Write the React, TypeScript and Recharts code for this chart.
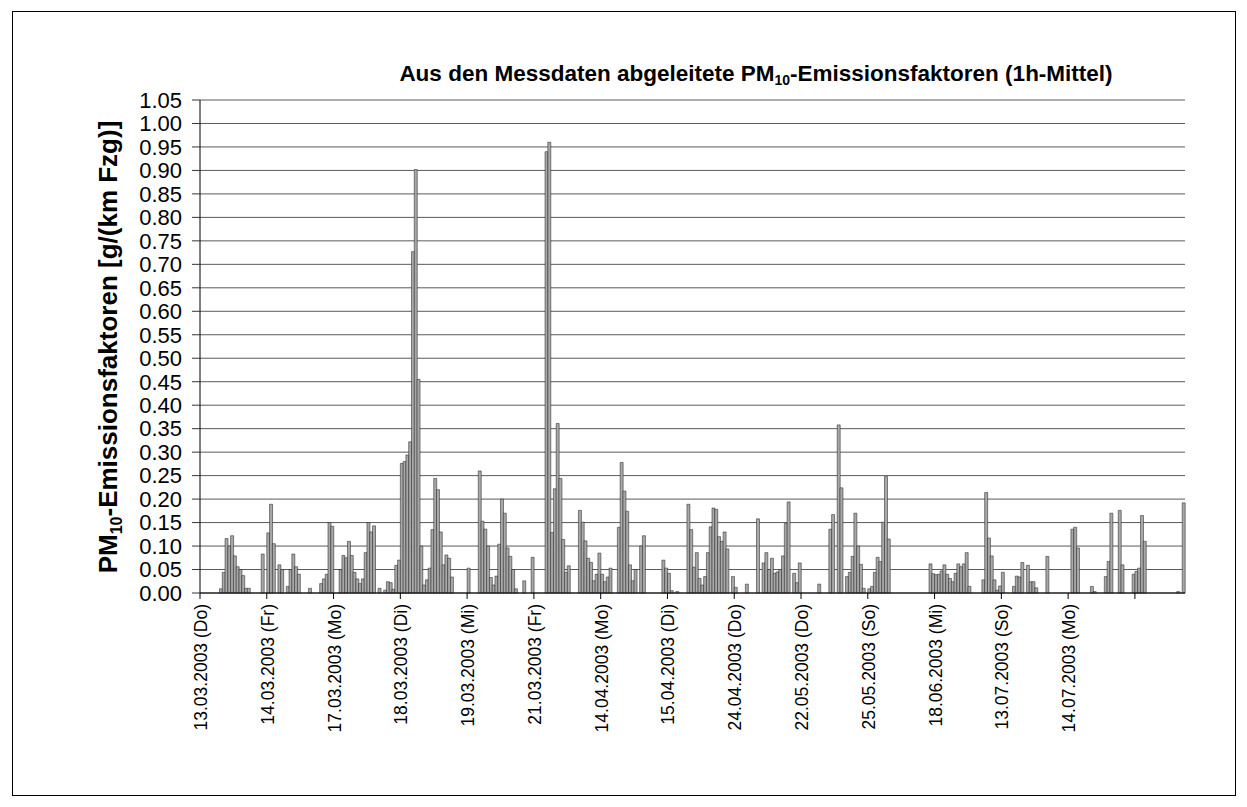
import React from 'react';
import { BarChart, Bar, XAxis, YAxis, CartesianGrid } from 'recharts';

const _ = null;

// labels of the day ticks (every 24 hourly values)
const dayLabels = [
  '13.03.2003 (Do)', '14.03.2003 (Fr)', '17.03.2003 (Mo)', '18.03.2003 (Di)',
  '19.03.2003 (Mi)', '21.03.2003 (Fr)', '14.04.2003 (Mo)', '15.04.2003 (Di)',
  '24.04.2003 (Do)', '22.05.2003 (Do)', '25.05.2003 (So)', '18.06.2003 (Mi)',
  '13.07.2003 (So)', '14.07.2003 (Mo)',
];

// 1h-Mittel, g/(km Fzg), one array per day
const d1303 = [_, _, _, _, _, _, _, 0.009, 0.044, 0.116, 0.10, 0.122, 0.079, 0.056, 0.05, 0.037, 0.01, 0.01, _, _, _, _, 0.083, _];
const d1403 = [0.128, 0.189, 0.105, _, 0.06, 0.05, _, 0.014, 0.05, 0.083, 0.056, 0.04, _, _, _, 0.01, _, _, _, 0.02, 0.03, 0.04, 0.15, 0.142];
const d1703 = [_, _, 0.05, 0.08, 0.075, 0.11, 0.08, 0.044, 0.03, 0.02, 0.03, 0.086, 0.15, 0.13, 0.143, _, 0.01, _, 0.006, 0.024, 0.022, 0.008, 0.059, 0.07];
const d1803 = [0.276, 0.28, 0.294, 0.322, 0.727, 0.902, 0.455, 0.10, 0.017, 0.028, 0.053, 0.135, 0.244, 0.22, 0.13, 0.06, 0.081, 0.074, 0.034, _, _, _, _, _];
const d1903 = [0.053, _, _, _, 0.26, 0.153, 0.136, 0.10, 0.033, 0.017, 0.036, 0.104, 0.2, 0.17, 0.096, 0.078, 0.05, 0.009, _, _, 0.026, _, _, 0.076];
const d2103 = [_, _, _, _, 0.94, 0.96, 0.129, 0.222, 0.361, 0.244, 0.114, 0.044, 0.058, _, _, _, 0.176, 0.151, 0.111, 0.074, 0.065, 0.026, 0.04, 0.085];
const d1404 = [0.04, 0.024, 0.034, 0.053, _, _, 0.14, 0.278, 0.217, 0.174, 0.06, 0.026, 0.05, _, 0.10, 0.122, _, _, _, _, _, _, 0.07, 0.053];
const d1504 = [0.042, 0.005, _, 0.003, _, _, _, 0.189, 0.135, 0.055, 0.086, 0.031, 0.017, 0.035, 0.086, 0.141, 0.181, 0.178, 0.12, 0.11, 0.13, 0.094, _, 0.035];
const d2404 = [0.012, _, _, _, 0.019, _, _, _, 0.158, _, 0.064, 0.086, 0.05, 0.074, 0.042, 0.045, 0.05, 0.079, 0.148, 0.194, _, 0.042, 0.022, 0.064];
const d2205 = [_, _, _, _, _, _, 0.019, _, _, _, 0.136, 0.167, _, 0.358, 0.224, _, 0.035, 0.044, 0.078, 0.17, 0.1, 0.061, 0.01, _];
const d2505 = [0.009, 0.014, 0.044, 0.076, 0.067, 0.151, 0.248, 0.115, _, _, _, _, _, _, _, _, _, _, _, _, _, _, 0.062, 0.041];
const d1806 = [0.039, 0.04, 0.047, 0.06, 0.04, 0.031, 0.024, 0.042, 0.062, 0.056, 0.062, 0.086, 0.014, _, _, _, _, 0.028, 0.214, 0.117, 0.079, 0.028, 0.006, 0.015];
const d1307 = [0.044, _, _, _, 0.014, 0.036, 0.034, 0.065, _, 0.059, 0.024, 0.024, 0.011, _, _, _, 0.078, _, _, _, _, _, _, _];
const d1407 = [_, 0.136, 0.14, 0.096, _, _, _, _, 0.014, 0.003, _, _, _, 0.035, 0.067, 0.17, _, _, 0.176, 0.06, _, _, _, 0.04];
const dLast = [0.046, 0.053, 0.165, 0.11, _, _, _, _, _, _, _, _, _, _, _, 0.003, _, 0.192];

const yTicks = [0, 0.05, 0.1, 0.15, 0.2, 0.25, 0.3, 0.35, 0.4, 0.45, 0.5, 0.55, 0.6, 0.65, 0.7, 0.75, 0.8, 0.85, 0.9, 0.95, 1.0, 1.05];

const days = [d1303, d1403, d1703, d1803, d1903, d2103, d1404, d1504, d2404, d2205, d2505, d1806, d1307, d1407, dLast];
const data = days.flatMap((vals, d) => vals.map((v, h) => ({ key: `${d}-${h}`, pm: v })));
const tickKeys = days.map((_v, d) => `${d}-0`);

const FONT = '"Liberation Sans", Arial, sans-serif';
const W = 1247;
const H = 807;
const PLOT_L = 200;
const PLOT_R = 1185;
const PLOT_B = 593;
const halfBand = (PLOT_R - PLOT_L) / data.length / 2;

const DayTick = (props: any) => {
  const { x, y, payload } = props;
  const d = Number(String(payload.value).split('-')[0]);
  const label = dayLabels[d] ?? '';
  const x0 = x - halfBand;
  return (
    <g>
      <line x1={x0} y1={y} x2={x0} y2={y + 6} stroke="#000" strokeWidth={1} />
      <text
        transform={`translate(${x0 + 1},${y + 11}) rotate(-90)`}
        textAnchor="end"
        dominantBaseline="central"
        fontSize={17.5}
        fontFamily={FONT}
        fill="#000"
      >
        {label}
      </text>
    </g>
  );
};

export default function App() {
  return (
    <div style={{ position: 'absolute', left: 0, top: 0, width: W, height: H, background: '#fff' }}>
      <div style={{ position: 'absolute', left: 12, top: 11, width: 1222, height: 783, border: '1px solid #000' }} />
      <div style={{ position: 'absolute', left: 0, top: 0 }}>
        <BarChart
          width={W}
          height={H}
          data={data}
          margin={{ top: 100, right: W - PLOT_R, bottom: 0, left: 90 }}
          barCategoryGap={0}
          barGap={0}
        >
          <CartesianGrid yAxisId="left" vertical={false} stroke="#5a5a5a" strokeWidth={1} />
          <XAxis
            dataKey="key"
            type="category"
            ticks={tickKeys}
            interval={0}
            tick={<DayTick />}
            tickLine={false}
            tickSize={0}
            tickMargin={0}
            axisLine={{ stroke: '#000' }}
            height={H - PLOT_B}
          />
          <YAxis
            yAxisId="left"
            width={PLOT_L - 90}
            domain={[0, 1.05]}
            ticks={yTicks}
            interval={0}
            tickFormatter={(v: number) => v.toFixed(2)}
            tick={{ fontSize: 22, fontFamily: FONT, fill: '#000' }}
            tickSize={8}
            tickMargin={10}
            tickLine={{ stroke: '#333' }}
            axisLine={{ stroke: '#000' }}
          />
          <YAxis
            yAxisId="right"
            orientation="right"
            width={0}
            domain={[0, 1.05]}
            tick={false}
            tickLine={false}
            axisLine={{ stroke: '#000' }}
          />
          <Bar
            yAxisId="left"
            dataKey="pm"
            fill="#a8a8a8"
            stroke="#1a1a1a"
            strokeWidth={0.5}
            isAnimationActive={false}
          />
        </BarChart>
      </div>
      <svg width={W} height={H} style={{ position: 'absolute', left: 0, top: 0, pointerEvents: 'none' }}>
        <text x={756} y={81} textAnchor="middle" fontSize={22.5} fontWeight="bold" fontFamily={FONT} fill="#000">
          Aus den Messdaten abgeleitete PM
          <tspan fontSize={14} dy={4}>10</tspan>
          <tspan dy={-4}>-Emissionsfaktoren (1h-Mittel)</tspan>
        </text>
        <text
          transform="translate(117,347) rotate(-90)"
          textAnchor="middle"
          fontSize={26}
          fontWeight="bold"
          fontFamily={FONT}
          fill="#000"
        >
          PM
          <tspan fontSize={16} dy={5}>10</tspan>
          <tspan dy={-5}>-Emissionsfaktoren [g/(km Fzg)]</tspan>
        </text>
      </svg>
    </div>
  );
}
